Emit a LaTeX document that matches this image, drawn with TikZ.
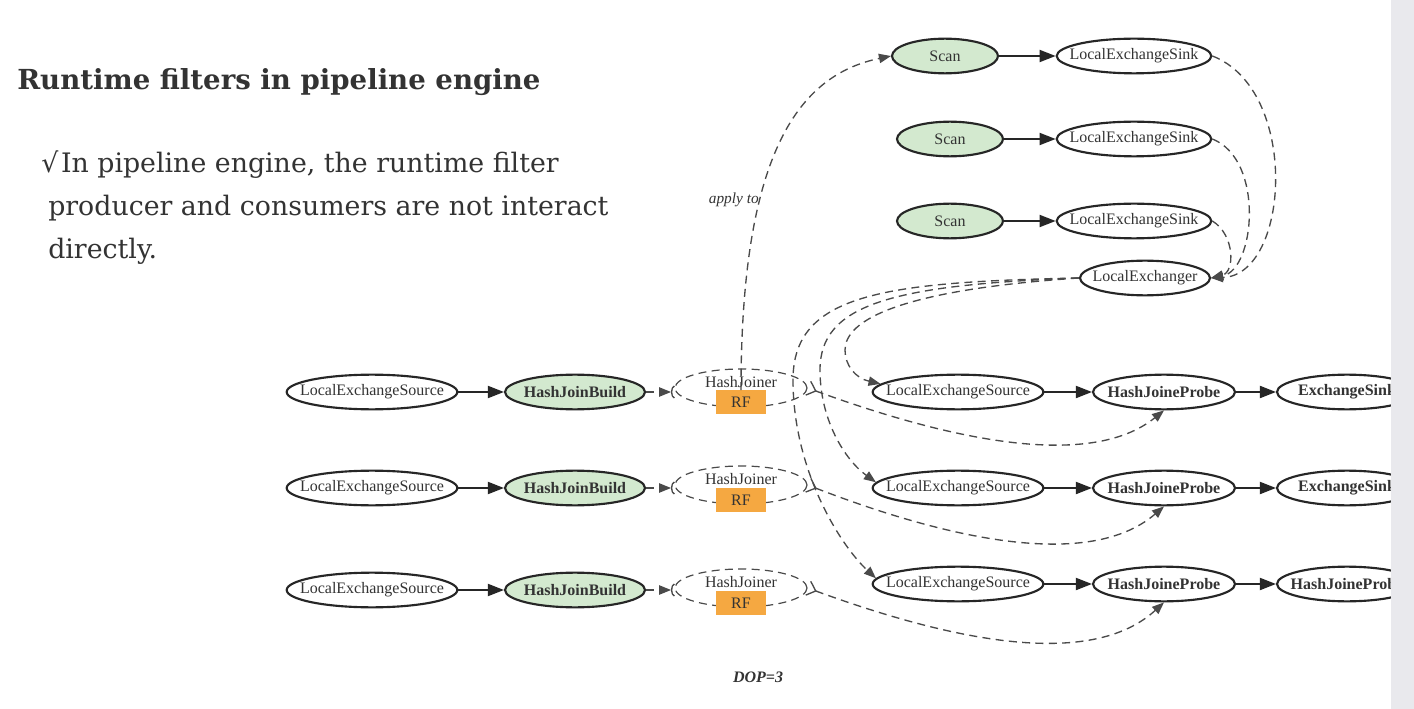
\documentclass[tikz,border=0pt]{standalone}
\usepackage{fontspec}
\setmainfont{Liberation Serif}
\newfontfamily\slidefont{DejaVu Serif}
\newfontfamily\symfont{DejaVu Sans}
\usetikzlibrary{arrows.meta,shapes.geometric}
\definecolor{nodegreen}{HTML}{D3E9CF}
\definecolor{rforange}{HTML}{F5A841}
\definecolor{txt}{HTML}{333333}
\definecolor{dashc}{HTML}{4A4A4A}
\definecolor{bandgray}{HTML}{E9E9ED}
\newcommand\zb[1]{\makebox[0pt]{#1}}
\begin{document}
\begin{tikzpicture}[x=0.75pt,y=-0.75pt,
  every node/.style={font=\fontsize{12}{14}\selectfont, text=txt},
  ell/.style={ellipse, draw=black!85, line width=1.6pt, inner sep=0pt, minimum height=26pt},
  green/.style={ell, fill=nodegreen},
  lsrc/.style={ell, minimum width=128pt},
  bld/.style={green, minimum width=105pt, font=\fontsize{12}{14}\selectfont\bfseries},
  prb/.style={ell, minimum width=106.5pt, font=\fontsize{12}{14}\selectfont\bfseries},
  scn/.style={green, minimum width=79.5pt},
  snk/.style={ell, minimum width=116pt},
  joiner/.style={ellipse, draw=dashc, dashed, dash pattern=on 6pt off 4pt, line width=0.9pt, inner sep=0pt, minimum width=99pt, minimum height=28.5pt},
  rfbox/.style={rectangle, fill=rforange, inner sep=0pt, minimum width=38pt, minimum height=17.5pt},
  slidetext/.style={anchor=base west, inner sep=0pt, font=\slidefont\fontsize{20.1}{24}\selectfont},
  flow/.style={-{Triangle[length=12pt,width=9pt]}, line width=1.4pt, draw=black!85},
  dep/.style={draw=dashc, dashed, dash pattern=on 6pt off 4pt, line width=1pt, -{Triangle[length=9pt,width=7pt]}},
  build2join/.style={draw=dashc, dashed, dash pattern=on 6pt off 4pt, line width=1pt, -{Triangle[length=9pt,width=7pt] Arc Barb[reversed,length=2.5pt,width=10pt]}},
  crowtail/.style={{Straight Barb[reversed,length=6pt,width=11pt]}-{Triangle[length=9pt,width=7pt]}}
]
\fill[white] (0,0) rectangle (1414,709);
\useasboundingbox (0,0) rectangle (1414,709);

% slide text
\node[anchor=base west, inner sep=0pt, font=\slidefont\fontsize{20.7}{24}\selectfont\bfseries] (title) at (17,90) {Runtime filters in pipeline engine};
\node[slidetext] (line1) at (41,173) {{\symfont √}\hspace{2pt}In pipeline engine, the runtime filter};
\node[slidetext] (line2) at (48,216) {producer and consumers are not interact};
\node[slidetext] (line3) at (48,259) {directly.};

% top: scans and sinks
\node[scn] (scan1) at (945,56) {\zb{Scan}};
\node[scn] (scan2) at (950,139) {\zb{Scan}};
\node[scn] (scan3) at (950,221) {\zb{Scan}};
\node[snk] (snk1) at (1134,56) {\zb{LocalExchangeSink}};
\node[snk] (snk2) at (1134,139) {\zb{LocalExchangeSink}};
\node[snk] (snk3) at (1134,221) {\zb{LocalExchangeSink}};
\node[ell, minimum width=97.5pt] (ex) at (1145,278) {\zb{LocalExchanger}};

% left build side
\node[lsrc] (lsrc1) at (372,392) {\zb{LocalExchangeSource}};
\node[lsrc] (lsrc2) at (372,488) {\zb{LocalExchangeSource}};
\node[lsrc] (lsrc3) at (372,590) {\zb{LocalExchangeSource}};
\node[bld] (bld1) at (575,392) {\zb{HashJoinBuild}};
\node[bld] (bld2) at (575,488) {\zb{HashJoinBuild}};
\node[bld] (bld3) at (575,590) {\zb{HashJoinBuild}};
\node[joiner] (jn1) at (741,388) {};
\node[joiner] (jn2) at (741,485) {};
\node[joiner] (jn3) at (741,588) {};
\node[inner sep=0pt] (jl1) at (741,382) {HashJoiner};
\node[inner sep=0pt] (jl2) at (741,479) {HashJoiner};
\node[inner sep=0pt] (jl3) at (741,582) {HashJoiner};
\node[rfbox] (rf1) at (741,402) {RF};
\node[rfbox] (rf2) at (741,500) {RF};
\node[rfbox] (rf3) at (741,603) {RF};

% right probe side
\node[lsrc] (rsrc1) at (958,392) {\zb{LocalExchangeSource}};
\node[lsrc] (rsrc2) at (958,488) {\zb{LocalExchangeSource}};
\node[lsrc] (rsrc3) at (958,584) {\zb{LocalExchangeSource}};
\node[prb] (prb1) at (1164,392) {\zb{HashJoineProbe}};
\node[prb] (prb2) at (1164,488) {\zb{HashJoineProbe}};
\node[prb] (prb3) at (1164,584) {\zb{HashJoineProbe}};
\node[prb, minimum width=105pt] (out1) at (1347,392) {\zb{ExchangeSink}};
\node[prb, minimum width=105pt] (out2) at (1347,488) {\zb{ExchangeSink}};
\node[prb, minimum width=105pt] (out3) at (1347,584) {\zb{HashJoineProbe}};

% labels
\node[anchor=east, inner sep=0pt, font=\fontsize{11.5}{13}\selectfont\itshape] (applyto) at (759,200) {apply to};
\node[inner sep=0pt, font=\fontsize{12}{14}\selectfont\bfseries\itshape] (dop) at (758,677) {DOP=3};

% solid flows
\draw[flow] (scan1) -- (snk1);
\draw[flow] (scan2) -- (snk2);
\draw[flow] (scan3) -- (snk3);
\draw[flow] (lsrc1) -- (bld1);
\draw[flow] (lsrc2) -- (bld2);
\draw[flow] (lsrc3) -- (bld3);
\draw[flow] (rsrc1) -- (prb1);
\draw[flow] (rsrc2) -- (prb2);
\draw[flow] (rsrc3) -- (prb3);
\draw[flow] (prb1) -- (out1);
\draw[flow] (prb2) -- (out2);
\draw[flow] (prb3) -- (out3);

% build -> joiner
\draw[build2join] (bld1.east) -- (bld1.east -| jn1.west);
\draw[build2join] (bld2.east) -- (bld2.east -| jn2.west);
\draw[build2join] (bld3.east) -- (bld3.east -| jn3.west);

% apply to
\draw[dep] (rf1.north) .. controls (741,150) and (800,75) .. (scan1.west);

% sinks -> exchanger
\draw[dep] (snk1.east) .. controls (1300,90) and (1290,275) .. (ex.east);
\draw[dep] (snk2.east) .. controls (1265,160) and (1255,270) .. (ex.east);
\draw[dep] (snk3.east) .. controls (1235,235) and (1235,272) .. (ex.east);

% exchanger -> probe-side sources
\draw[dep] (ex.west) .. controls (880,282) and (793,295) .. (793,380) .. controls (793,470) and (840,545) .. (rsrc3.176);
\draw[dep] (ex.west) .. controls (890,285) and (820,305) .. (820,370) .. controls (820,420) and (845,460) .. (rsrc2.176);
\draw[dep] (ex.west) .. controls (900,290) and (845,320) .. (845,350) .. controls (845,365) and (855,378) .. (rsrc1.174);

% joiner -> probe
\draw[dep, crowtail] (jn1.east) .. controls (950,440) and (1090,470) .. (prb1.south);
\draw[dep, crowtail] (jn2.east) .. controls (950,540) and (1090,570) .. (prb2.south);
\draw[dep, crowtail] (jn3.east) .. controls (950,640) and (1090,670) .. (prb3.south);

% slide edge band
\fill[bandgray] (1391,0) rectangle (1414,709);
\end{tikzpicture}
\end{document}
